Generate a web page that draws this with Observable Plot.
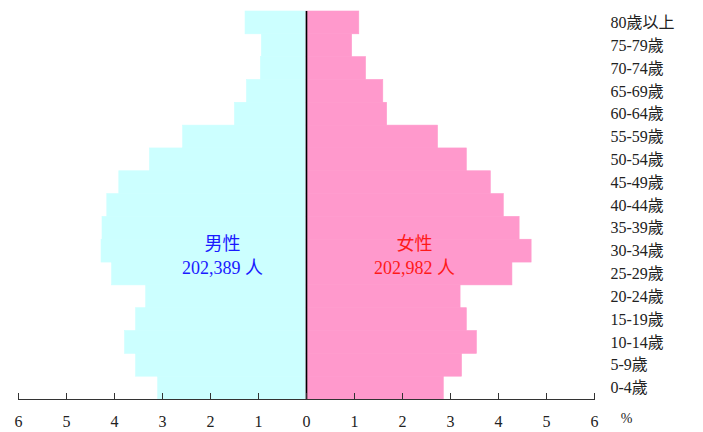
<!DOCTYPE html>
<html>
<head>
<meta charset="utf-8">
<script src="https://cdn.jsdelivr.net/npm/d3@7"></script>
<script src="https://cdn.jsdelivr.net/npm/@observablehq/plot@0.6"></script>
<style>
  html, body { margin: 0; padding: 0; background: #fff; }
  #chart svg { display: block; }
</style>
</head>
<body>
<div id="chart"></div>
<script>
const ages = ["0-4歲","5-9歲","10-14歲","15-19歲","20-24歲","25-29歲","30-34歲","35-39歲","40-44歲","45-49歲","50-54歲","55-59歲","60-64歲","65-69歲","70-74歲","75-79歲","80歲以上"];
const male   = [3.09,3.55,3.78,3.55,3.34,4.05,4.27,4.25,4.15,3.90,3.26,2.57,1.49,1.24,0.95,0.93,1.27];
const female = [2.86,3.24,3.55,3.34,3.21,4.29,4.69,4.44,4.11,3.84,3.34,2.74,1.68,1.60,1.24,0.95,1.10];
const xTicks = [-6,-5,-4,-3,-2,-1,0,1,2,3,4,5,6];
const maleLabel = "男性\n202,389 人";
const femaleLabel = "女性\n202,982 人";
const unitLabel = "%";

const rows = ages.map((a, i) => ({age: a, male: male[i], female: female[i]}));
const ff = "Liberation Serif, Times New Roman, DejaVu Serif, Noto Sans CJK TC, serif";

const plot = Plot.plot({
  width: 703,
  height: 432,
  marginLeft: 18,
  marginRight: 109,
  marginTop: 11,
  marginBottom: 33,
  style: {fontFamily: ff, fontSize: "15px", background: "#fff", color: "#222"},
  x: {domain: [-6, 6]},
  y: {domain: ages.slice().reverse(), padding: 0, round: false},
  marks: [
    Plot.barX(rows, {y: "age", x1: 0, x2: d => -d.male, fill: "#ccffff", stroke: "#ccffff", strokeWidth: 0.6, inset: 0}),
    Plot.barX(rows, {y: "age", x1: 0, x2: "female", fill: "#ff99cc", stroke: "#ff99cc", strokeWidth: 0.6, inset: 0}),
    Plot.ruleX([0], {stroke: "#000", strokeWidth: 1.6}),
    Plot.frame({anchor: "bottom", stroke: "#333", strokeWidth: 1}),
    Plot.axisX({ticks: xTicks, tickSize: -6, tickPadding: 22, tickFormat: d => Math.abs(d), label: null, stroke: "#333", fontSize: 16, fontFamily: ff}),
    Plot.axisY({anchor: "right", tickSize: 0, tickPadding: 16, label: null, textAnchor: "start", fontSize: 16, fontFamily: ff}),
    Plot.text([maleLabel], {x: -1.75, y: () => "30-34歲", dy: 3, text: d => d, fill: "#1a1aff", fontSize: 18, lineHeight: 1.35, fontFamily: ff}),
    Plot.text([femaleLabel], {x: 2.25, y: () => "30-34歲", dy: 3, text: d => d, fill: "#ff1a1a", fontSize: 18, lineHeight: 1.35, fontFamily: ff}),
    Plot.text([unitLabel], {frameAnchor: "bottom-right", text: d => d, dx: 38, dy: 23, fontSize: 14, fill: "#222", fontFamily: ff})
  ]
});
document.getElementById("chart").appendChild(plot);
</script>
</body>
</html>
